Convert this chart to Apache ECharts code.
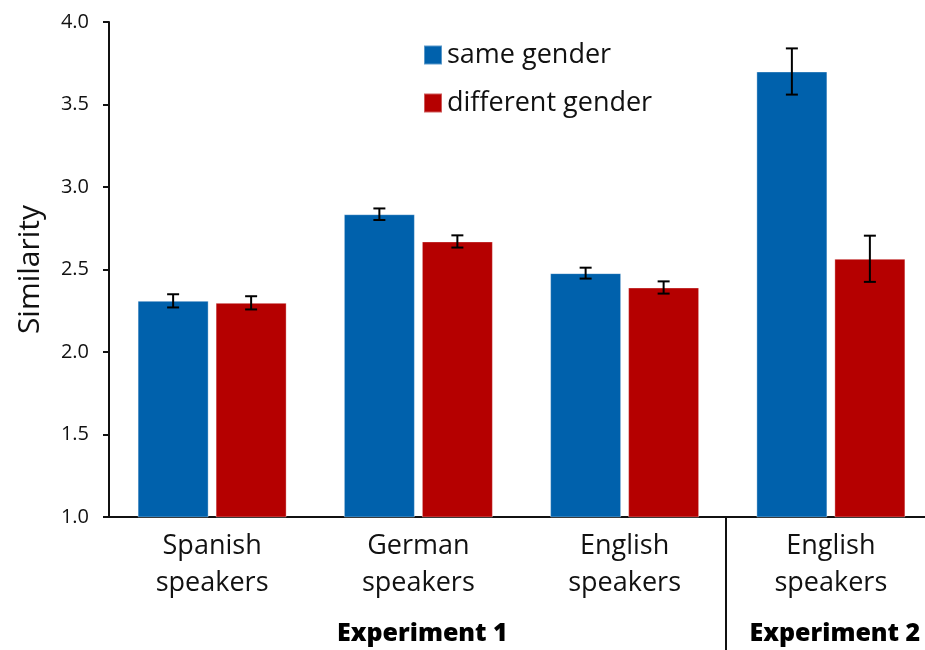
<!DOCTYPE html>
<html>
<head>
<meta charset="utf-8">
<script src="https://cdn.jsdelivr.net/npm/echarts@6/dist/echarts.min.js"></script>
<style>html,body{margin:0;padding:0;background:#fff}#c{width:925px;height:650px}</style>
</head>
<body>
<div id="c"></div>
<script>
const categories = ['Spanish\nspeakers', 'German\nspeakers', 'English\nspeakers', 'English\nspeakers'];
const groups = ['Experiment 1', 'Experiment 2'];
const groupSpans = [[0, 2], [3, 3]];
const seriesNames = ['same gender', 'different gender'];
const sameGender = [2.31, 2.835, 2.478, 3.70];
const sameErr = [0.04, 0.035, 0.033, 0.14];
const diffGender = [2.298, 2.670, 2.391, 2.565];
const diffErr = [0.04, 0.037, 0.037, 0.14];
const yTicks = { min: 1, max: 4, interval: 0.5 };

const FONT = '"Open Sans"';
const colors = ['#0061AC', '#B50000'];
const BAR_W = 71, GAP_PX = 7;

const chart = echarts.init(document.getElementById('c'));

function errData(vals, errs) {
  return vals.map((v, i) => [i, v - errs[i], v + errs[i]]);
}
function errSeries(vals, errs, k) {
  return {
    type: 'custom',
    silent: true,
    z: 10,
    data: errData(vals, errs),
    encode: { x: 0, y: [1, 2] },
    renderItem: function (params, api) {
      const off = (k === 0 ? -1 : 1) * (BAR_W + GAP_PX) / 2;
      const lo = api.coord([api.value(0), api.value(1)]);
      const hi = api.coord([api.value(0), api.value(2)]);
      const x = lo[0] + off;
      const cw = 6;
      const st = { stroke: '#000', lineWidth: 2 };
      return {
        type: 'group',
        children: [
          { type: 'line', shape: { x1: x, y1: lo[1], x2: x, y2: hi[1] }, style: st },
          { type: 'line', shape: { x1: x - cw, y1: lo[1], x2: x + cw, y2: lo[1] }, style: st },
          { type: 'line', shape: { x1: x - cw, y1: hi[1], x2: x + cw, y2: hi[1] }, style: st }
        ]
      };
    }
  };
}

chart.setOption({
  animation: false,
  textStyle: { fontFamily: FONT },
  grid: { left: 109, width: 825, top: 22, bottom: 133, containLabel: false, outerBoundsMode: 'none' },
  legend: {
    orient: 'vertical',
    left: 418, top: 34,
    itemWidth: 18, itemHeight: 19, itemGap: 16,
    icon: 'rect',
    data: seriesNames,
    textStyle: { fontFamily: FONT, fontSize: 27, color: '#111', lineHeight: 32 },
  },
  xAxis: {
    type: 'category',
    data: categories,
    axisLine: { lineStyle: { color: '#111', width: 2 } },
    axisTick: { show: false },
    axisLabel: { fontFamily: FONT, fontSize: 27, color: '#111', lineHeight: 37, margin: 11 }
  },
  yAxis: {
    type: 'value',
    min: yTicks.min, max: yTicks.max, interval: yTicks.interval,
    name: 'Similarity',
    nameLocation: 'middle',
    nameGap: 64,
    nameTextStyle: { fontFamily: FONT, fontSize: 30, color: '#111' },
    axisLine: { show: true, lineStyle: { color: '#111', width: 2 } },
    axisTick: { show: true, length: 6, lineStyle: { color: '#111', width: 2 } },
    splitLine: { show: false },
    axisLabel: { fontFamily: FONT, fontSize: 20, color: '#111', margin: 20, formatter: v => v.toFixed(1) }
  },
  series: [
    { name: seriesNames[0], type: 'bar', data: sameGender, barWidth: BAR_W, barGap: (GAP_PX / BAR_W * 100) + '%',
      itemStyle: { color: colors[0], borderColor: 'rgba(255,255,255,0.35)', borderWidth: 1 } },
    { name: seriesNames[1], type: 'bar', data: diffGender, barWidth: BAR_W,
      itemStyle: { color: colors[1], borderColor: 'rgba(255,255,255,0.35)', borderWidth: 1 } },
    errSeries(sameGender, sameErr, 0),
    errSeries(diffGender, diffErr, 1)
  ]
});

const gfx = groups.map((g, i) => {
  const a = chart.convertToPixel({ xAxisIndex: 0 }, groupSpans[i][0]);
  const b = chart.convertToPixel({ xAxisIndex: 0 }, groupSpans[i][1]);
  return {
    type: 'text',
    x: (a + b) / 2 + 4, y: 634,
    style: { text: g, fontFamily: FONT, fontWeight: 800, fontSize: 25, fill: '#000', align: 'center', verticalAlign: 'middle' }
  };
});
// separator between the two experiment groups (category boundary)
const c2 = chart.convertToPixel({ xAxisIndex: 0 }, groupSpans[0][1]);
const c3 = chart.convertToPixel({ xAxisIndex: 0 }, groupSpans[1][0]);
const yBase = chart.convertToPixel({ yAxisIndex: 0 }, yTicks.min);
const sx = Math.round((c2 + c3) / 2) - 2;
gfx.push({ type: 'line', shape: { x1: sx, y1: yBase, x2: sx, y2: 650 }, style: { stroke: '#111', lineWidth: 2 } });
chart.setOption({ graphic: gfx });
</script>
</body>
</html>
